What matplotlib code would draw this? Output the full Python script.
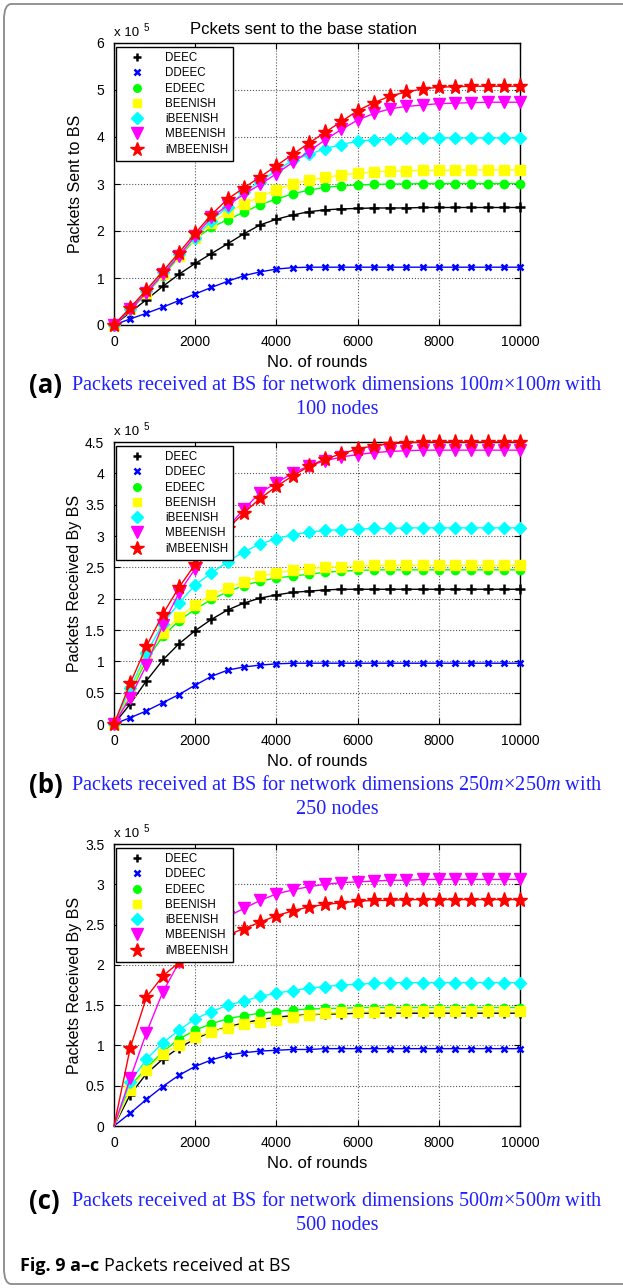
import numpy as np
import matplotlib
matplotlib.use("Agg")
import matplotlib.pyplot as plt
from matplotlib.lines import Line2D
from matplotlib.patches import FancyBboxPatch
from matplotlib.ticker import FormatStrFormatter

# rounds (markers every 400 rounds)
rounds = list(range(0, 10001, 400))

names = ['DEEC', 'DDEEC', 'EDEEC', 'BEENISH', 'iBEENISH', 'MBEENISH', 'iMBEENISH']

# (a) 100 nodes, values in units of 1e5
a_deec = [0, 0.27, 0.54, 0.82, 1.08, 1.31, 1.52, 1.73, 1.94, 2.13, 2.25, 2.34, 2.41, 2.45, 2.47, 2.48,
          2.49, 2.49, 2.49, 2.50, 2.50, 2.50, 2.50, 2.50, 2.50, 2.50]
a_ddeec = [0, 0.13, 0.25, 0.38, 0.52, 0.66, 0.80, 0.93, 1.05, 1.13, 1.19, 1.22, 1.23, 1.23, 1.23, 1.23,
           1.23, 1.23, 1.23, 1.23, 1.23, 1.23, 1.23, 1.23, 1.23, 1.23]
a_edeec = [0, 0.31, 0.67, 1.05, 1.44, 1.83, 2.08, 2.24, 2.40, 2.56, 2.68, 2.79, 2.87, 2.93, 2.96, 2.98,
           2.99, 3.00, 3.00, 3.01, 3.01, 3.01, 3.01, 3.01, 3.01, 3.01]
a_beenish = [0, 0.33, 0.69, 1.08, 1.47, 1.86, 2.17, 2.40, 2.57, 2.73, 2.88, 3.00, 3.08, 3.14, 3.19, 3.23,
             3.26, 3.27, 3.28, 3.29, 3.29, 3.29, 3.30, 3.30, 3.30, 3.30]
a_ibeenish = [0, 0.33, 0.73, 1.12, 1.50, 1.86, 2.22, 2.52, 2.83, 3.05, 3.29, 3.50, 3.63, 3.75, 3.84, 3.91,
              3.94, 3.96, 3.97, 3.97, 3.98, 3.98, 3.98, 3.98, 3.98, 3.98]
a_mbeenish = [0, 0.33, 0.69, 1.08, 1.47, 1.90, 2.29, 2.55, 2.78, 2.99, 3.22, 3.46, 3.69, 3.94, 4.16, 4.36,
              4.50, 4.60, 4.65, 4.68, 4.71, 4.72, 4.73, 4.74, 4.74, 4.74]
a_imbeenish = [0, 0.37, 0.75, 1.14, 1.54, 1.95, 2.35, 2.68, 2.92, 3.15, 3.39, 3.63, 3.87, 4.10, 4.33, 4.56,
               4.73, 4.87, 4.96, 5.02, 5.06, 5.07, 5.08, 5.08, 5.08, 5.08]

# (b) 250 nodes
b_deec = [0, 0.32, 0.69, 1.02, 1.28, 1.49, 1.67, 1.82, 1.93, 2.01, 2.06, 2.10, 2.12, 2.14, 2.15, 2.15,
          2.15, 2.15, 2.15, 2.15, 2.15, 2.15, 2.15, 2.15, 2.15, 2.15]
b_ddeec = [0, 0.10, 0.21, 0.34, 0.47, 0.62, 0.76, 0.86, 0.91, 0.94, 0.96, 0.97, 0.97, 0.97, 0.97, 0.97,
           0.97, 0.97, 0.97, 0.97, 0.97, 0.97, 0.97, 0.97, 0.97, 0.97]
b_edeec = [0, 0.50, 1.02, 1.40, 1.65, 1.83, 1.99, 2.11, 2.21, 2.28, 2.33, 2.36, 2.39, 2.42, 2.44, 2.45,
           2.46, 2.46, 2.46, 2.46, 2.46, 2.46, 2.46, 2.46, 2.46, 2.46]
b_beenish = [0, 0.52, 1.08, 1.46, 1.70, 1.90, 2.06, 2.17, 2.27, 2.36, 2.41, 2.45, 2.48, 2.50, 2.51, 2.52,
             2.53, 2.53, 2.53, 2.53, 2.53, 2.53, 2.53, 2.53, 2.53, 2.53]
b_ibeenish = [0, 0.57, 1.13, 1.60, 1.93, 2.22, 2.41, 2.59, 2.75, 2.87, 2.96, 3.02, 3.06, 3.09, 3.10, 3.11,
              3.12, 3.12, 3.13, 3.13, 3.13, 3.13, 3.13, 3.13, 3.13, 3.13]
b_mbeenish = [0, 0.42, 0.94, 1.58, 2.09, 2.48, 2.82, 3.14, 3.43, 3.69, 3.85, 4.00, 4.12, 4.20, 4.26, 4.30,
              4.33, 4.35, 4.36, 4.37, 4.37, 4.37, 4.37, 4.37, 4.37, 4.37]
b_imbeenish = [0, 0.65, 1.24, 1.75, 2.18, 2.55, 2.85, 3.12, 3.37, 3.60, 3.79, 3.96, 4.11, 4.23, 4.31, 4.39,
               4.44, 4.47, 4.49, 4.50, 4.50, 4.50, 4.50, 4.50, 4.50, 4.50]

# (c) 500 nodes
c_deec = [0, 0.39, 0.65, 0.83, 0.97, 1.08, 1.17, 1.23, 1.28, 1.32, 1.35, 1.37, 1.38, 1.39, 1.39, 1.40,
          1.40, 1.40, 1.40, 1.40, 1.40, 1.40, 1.40, 1.40, 1.40, 1.40]
c_ddeec = [0, 0.16, 0.33, 0.49, 0.63, 0.74, 0.82, 0.88, 0.91, 0.93, 0.94, 0.95, 0.95, 0.96, 0.96, 0.96,
           0.96, 0.96, 0.96, 0.96, 0.96, 0.96, 0.96, 0.96, 0.96, 0.96]
c_edeec = [0, 0.50, 0.72, 0.92, 1.08, 1.19, 1.27, 1.33, 1.37, 1.40, 1.42, 1.44, 1.45, 1.46, 1.46, 1.47,
           1.47, 1.47, 1.47, 1.47, 1.47, 1.47, 1.47, 1.47, 1.47, 1.47]
c_beenish = [0, 0.45, 0.70, 0.89, 1.01, 1.11, 1.17, 1.22, 1.26, 1.29, 1.32, 1.35, 1.38, 1.40, 1.41, 1.42,
             1.42, 1.43, 1.43, 1.43, 1.43, 1.43, 1.43, 1.43, 1.43, 1.43]
c_ibeenish = [0, 0.55, 0.83, 1.03, 1.19, 1.33, 1.42, 1.50, 1.55, 1.61, 1.65, 1.68, 1.71, 1.73, 1.75, 1.76,
              1.77, 1.78, 1.78, 1.78, 1.78, 1.78, 1.78, 1.78, 1.78, 1.78]
c_mbeenish = [0, 0.59, 1.16, 1.66, 2.03, 2.28, 2.46, 2.60, 2.70, 2.80, 2.88, 2.93, 2.97, 3.00, 3.02, 3.03,
              3.04, 3.05, 3.05, 3.06, 3.06, 3.06, 3.06, 3.06, 3.06, 3.06]
c_imbeenish = [0, 0.97, 1.60, 1.86, 2.03, 2.17, 2.28, 2.37, 2.45, 2.53, 2.61, 2.67, 2.72, 2.75, 2.77, 2.79,
               2.80, 2.80, 2.81, 2.81, 2.81, 2.81, 2.81, 2.81, 2.81, 2.81]

colors = ['black', '#0000ff', '#00ff00', '#ffff00', '#00ffff', '#ff00ff', '#ff0000']
markers = ['+', 'x', 'o', 's', 'D', 'v', '*']
msizes = [7, 5, 6, 7, 6.5, 9, 11]
mews = [1.8, 1.8, 1, 1, 1, 1, 1]

W, H = 623, 1288
plt.rcParams['font.family'] = ['Liberation Sans', 'DejaVu Sans']
plt.rcParams['mathtext.fontset'] = 'custom'
plt.rcParams['mathtext.rm'] = 'Liberation Serif'
plt.rcParams['mathtext.it'] = 'Liberation Serif:italic'


def fx(x):
    return x / W


def fy(y):
    return 1 - y / H


fig = plt.figure(figsize=(W / 100, H / 100), dpi=100)
fig.patch.set_facecolor('white')

# rounded frame around the whole figure
fig.patches.append(FancyBboxPatch((fx(4), fy(1284)), fx(640) - fx(4), fy(4) - fy(1284),
                                  boxstyle='round,pad=0,rounding_size=0.012',
                                  transform=fig.transFigure, fill=False,
                                  edgecolor='#8a8a8a', linewidth=1.3))

panels = [
    dict(top=43, bottom=325, ymax=6, ystep=1, ylabel='Packets Sent to BS', skip_first=False,
         data=[a_deec, a_ddeec, a_edeec, a_beenish, a_ibeenish, a_mbeenish, a_imbeenish],
         letter='(a)', cap_y=385, cap1='Packets received at BS for network dimensions 100$m$\u00d7100$m$ with',
         cap2='100 nodes'),
    dict(top=442, bottom=724, ymax=4.5, ystep=0.5, ylabel='Packets Received By BS', skip_first=False,
         data=[b_deec, b_ddeec, b_edeec, b_beenish, b_ibeenish, b_mbeenish, b_imbeenish],
         letter='(b)', cap_y=785, cap1='Packets received at BS for network dimensions 250$m$\u00d7250$m$ with',
         cap2='250 nodes'),
    dict(top=844, bottom=1126, ymax=3.5, ystep=0.5, ylabel='Packets Received By BS', skip_first=True,
         data=[c_deec, c_ddeec, c_edeec, c_beenish, c_ibeenish, c_mbeenish, c_imbeenish],
         letter='(c)', cap_y=1202, cap1='Packets received at BS for network dimensions 500$m$\u00d7500$m$ with',
         cap2='500 nodes'),
]

left, right = 114, 520
for p in panels:
    ax = fig.add_axes([fx(left), fy(p['bottom']), fx(right) - fx(left), (p['bottom'] - p['top']) / H])
    for vals, c, m, ms, mew in zip(p['data'], colors, markers, msizes, mews):
        ax.plot(rounds, vals, color=c, marker=m, markersize=ms, mfc=c, mec=c, mew=mew, lw=1,
                markevery=slice(1, None) if p['skip_first'] else None, clip_on=False, zorder=3)
    ax.set_xlim(0, 10000)
    ax.set_ylim(0, p['ymax'])
    ax.set_xticks(range(0, 10001, 2000))
    ax.set_yticks(np.arange(0, p['ymax'] + 0.01, p['ystep']))
    ax.yaxis.set_major_formatter(FormatStrFormatter('%g'))
    ax.grid(True, linestyle=':', color='#555555', linewidth=0.8)
    ax.set_axisbelow(True)
    ax.tick_params(direction='in', top=True, right=True, length=4, labelsize=10, pad=7)
    for s in ax.spines.values():
        s.set_linewidth(1)

    handles = [Line2D([], [], linestyle='None', color=c, marker=m, markersize=ms * 0.9, mfc=c, mec=c, mew=mew)
               for c, m, ms, mew in zip(colors, markers, msizes, mews)]
    leg = ax.legend(handles, names, loc='upper left', bbox_to_anchor=(fx(116), fy(p['top'] + 4)),
                    bbox_transform=fig.transFigure, prop={'size': 8.3}, frameon=True, fancybox=False,
                    edgecolor='black', framealpha=1, borderpad=0.45, labelspacing=0.28,
                    handlelength=2.8, handletextpad=1.0, borderaxespad=0)
    leg.get_frame().set_linewidth(1)
    leg.set_zorder(5)

    # axis labels and scale marker
    fig.text(fx(317), fy(p['bottom'] + 38), 'No. of rounds', ha='center', va='center', fontsize=12)
    fig.text(fx(75), fy((p['top'] + p['bottom']) / 2), p['ylabel'], rotation=90, ha='center',
             va='center', fontsize=11.5)
    fig.text(fx(114), fy(p['top'] - 10), 'x 10', ha='left', va='center', fontsize=9.5)
    fig.text(fx(144), fy(p['top'] - 15), '5', ha='left', va='center', fontsize=7)

    # sub captions
    fig.text(fx(29), fy(p['cap_y']), p['letter'], ha='left', va='center', fontsize=18.5,
             fontweight='bold', family=['Open Sans', 'DejaVu Sans'])
    fig.text(fx(337), fy(p['cap_y']), p['cap1'], ha='center', va='center', fontsize=14.6,
             color='#1f1fff', family='Liberation Serif')
    fig.text(fx(337), fy(p['cap_y'] + 24), p['cap2'], ha='center', va='center', fontsize=14.6,
             color='#1f1fff', family='Liberation Serif')

fig.text(fx(303), fy(29), 'Pckets sent to the base station', ha='center', va='center', fontsize=12)

# figure caption: bold part followed by regular part
renderer = fig.canvas.get_renderer()
t_bold = fig.text(fx(20), fy(1266), 'Fig. 9 a\u2013c', ha='left', va='center', fontsize=13,
                  fontweight='bold', family=['Open Sans', 'DejaVu Sans'])
bb = t_bold.get_window_extent(renderer=renderer)
fig.text(fx(bb.x1 + 5), fy(1266), 'Packets received at BS', ha='left', va='center', fontsize=13,
         family=['Open Sans', 'DejaVu Sans'])

fig.savefig('out.png', dpi=100)
